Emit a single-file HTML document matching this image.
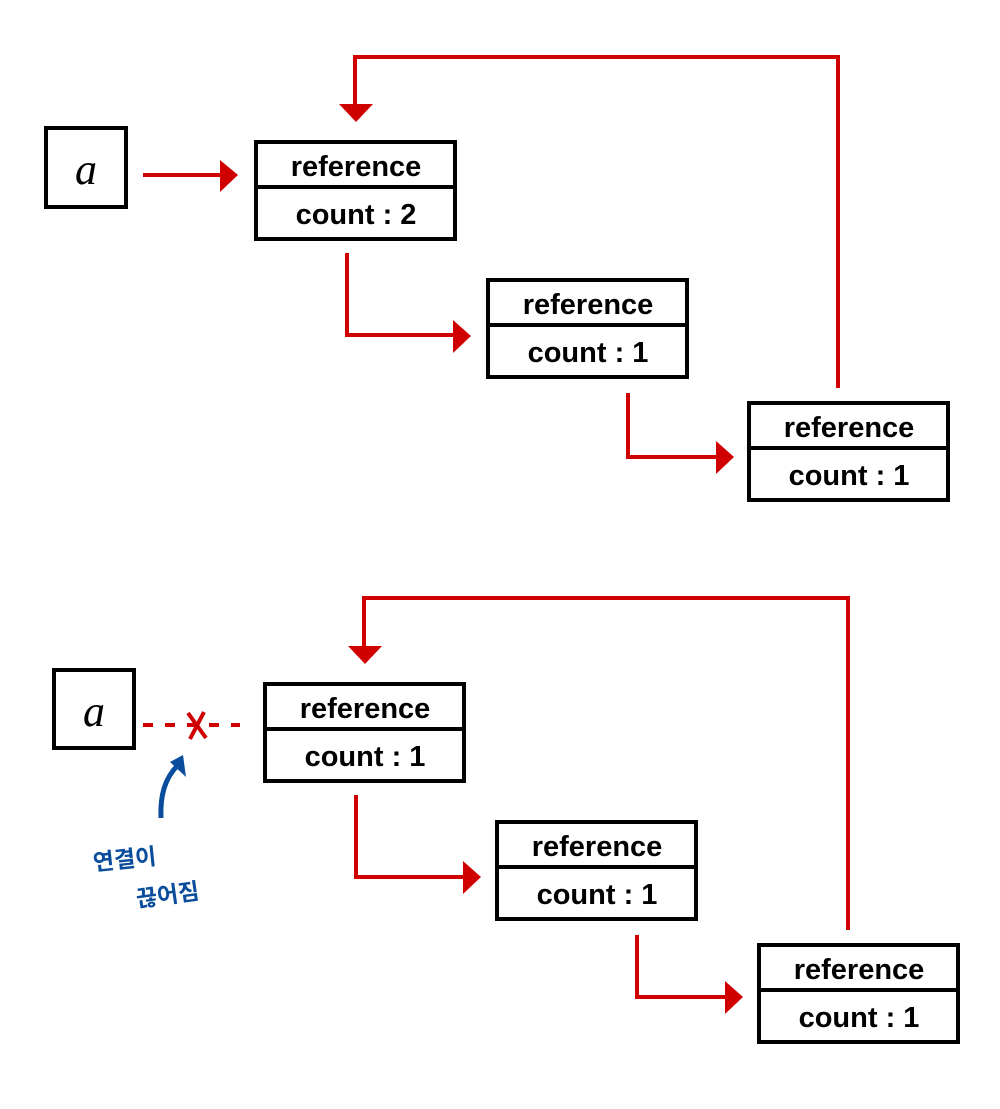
<!DOCTYPE html>
<html><head><meta charset="utf-8"><style>html,body{margin:0;padding:0;background:#fff}svg{display:block}</style></head>
<body>
<svg width="1000" height="1109" viewBox="0 0 1000 1109" xmlns="http://www.w3.org/2000/svg">
<defs>
<g id="node">
<rect x="0" y="0" width="199" height="97" fill="#fff" stroke="#000" stroke-width="4"/>
<line x1="0" y1="45" x2="199" y2="45" stroke="#000" stroke-width="4"/>
</g>
</defs>
<g font-family="Liberation Sans, sans-serif" font-weight="bold" fill="#000">
<!-- top -->
<rect x="46" y="128" width="80" height="79" fill="#fff" stroke="#000" stroke-width="4"/>
<text x="86" y="184" font-size="44" font-weight="normal" text-anchor="middle" font-family="Liberation Serif, serif" font-style="italic">a</text>
<g fill="none" stroke="#d00000" stroke-width="4">
<line x1="143" y1="175" x2="222" y2="175"/>
<polyline points="347,253 347,335 455,335"/>
<polyline points="628,393 628,457 717,457"/>
<polyline points="838,388 838,57 355,57 355,104"/>
<line x1="143" y1="725" x2="240" y2="725" stroke-dasharray="10,12"/>
<polyline points="356,795 356,877 465,877"/>
<polyline points="637,935 637,997 726,997"/>
<polyline points="848,930 848,598 364,598 364,646"/>
</g>
<g fill="#d00000">
<polygon points="220,160 238,175 220,192"/>
<polygon points="453,320 471,336 453,353"/>
<polygon points="716,441 734,457 716,474"/>
<polygon points="339,104 373,104 356,122"/>
<polygon points="463,861 481,877 463,894"/>
<polygon points="725,981 743,997 725,1014"/>
<polygon points="348,646 382,646 365,664"/>
</g>
<path d="M188,713 L206,738 M204,712 L190,739" stroke="#d00000" stroke-width="4" fill="none"/>
<use href="#node" x="256" y="142"/>
<use href="#node" x="488" y="280"/>
<use href="#node" x="749" y="403"/>
<use href="#node" x="265" y="684"/>
<use href="#node" x="497" y="822"/>
<use href="#node" x="759" y="945"/>
<g font-size="29" text-anchor="middle">
<text x="356" y="176">reference</text><text x="356" y="224">count : 2</text>
<text x="588" y="314">reference</text><text x="588" y="362">count : 1</text>
<text x="849" y="437">reference</text><text x="849" y="485">count : 1</text>
<text x="365" y="718">reference</text><text x="365" y="766">count : 1</text>
<text x="597" y="856">reference</text><text x="597" y="904">count : 1</text>
<text x="859" y="979">reference</text><text x="859" y="1027">count : 1</text>
</g>
<rect x="54" y="670" width="80" height="78" fill="#fff" stroke="#000" stroke-width="4"/>
<text x="94" y="726" font-size="44" font-weight="normal" text-anchor="middle" font-family="Liberation Serif, serif" font-style="italic">a</text>
<!-- blue annotation -->
<path d="M161,818 C160,795 165,778 178,765" stroke="#0a4d9c" stroke-width="5" fill="none"/>
<polygon points="170,762 183,755 186,777" fill="#0a4d9c"/>
<g fill="#0a4d9c" font-family="Liberation Sans, 'Noto Sans CJK KR', sans-serif" font-size="23" font-weight="bold">
<text x="93" y="867" transform="rotate(-6 128 860)">연결이</text>
<text x="136" y="902" transform="rotate(-8 175 895)">끊어짐</text>
</g>
</g>
</svg>
</body></html>
